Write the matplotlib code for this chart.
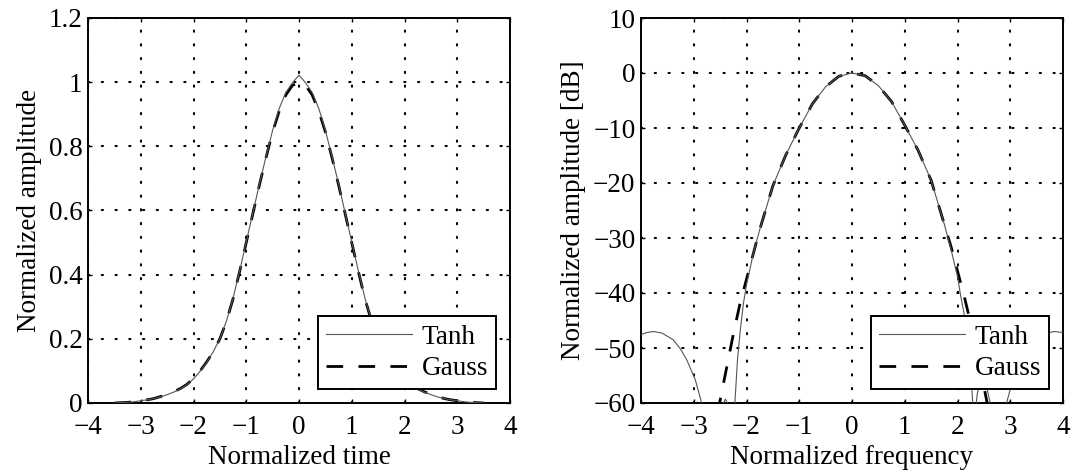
import numpy as np
import matplotlib
matplotlib.use('Agg')
import matplotlib.pyplot as plt
from matplotlib.ticker import FuncFormatter

# time domain pulse
t = [-3.5, -3.375, -3.25, -3.125, -3.0, -2.875, -2.75, -2.625, -2.5, -2.375, -2.25, -2.125,
     -2.0, -1.875, -1.75, -1.625, -1.5, -1.375, -1.25, -1.125, -1.0, -0.875, -0.75, -0.625,
     -0.5, -0.375, -0.25, -0.125, 0.0, 0.125, 0.25, 0.375, 0.5, 0.625, 0.75, 0.875, 1.0,
     1.125, 1.25, 1.375, 1.5, 1.625, 1.75, 1.875, 2.0, 2.125, 2.25, 2.375, 2.5, 2.625, 2.75,
     2.875, 3.0, 3.125, 3.25, 3.375, 3.5]
gauss_t = [0.000, 0.001, 0.002, 0.004, 0.007, 0.010, 0.014, 0.020, 0.027, 0.035, 0.045, 0.058,
           0.076, 0.100, 0.128, 0.160, 0.200, 0.255, 0.325, 0.410, 0.500, 0.590, 0.680, 0.765,
           0.845, 0.910, 0.960, 0.990, 1.000, 0.990, 0.960, 0.910, 0.845, 0.765, 0.680, 0.590,
           0.500, 0.410, 0.325, 0.255, 0.200, 0.160, 0.128, 0.100, 0.076, 0.058, 0.045, 0.035,
           0.027, 0.020, 0.014, 0.010, 0.007, 0.004, 0.002, 0.001, 0.000]
tanh_t = [0.000, 0.001, 0.002, 0.004, 0.007, 0.010, 0.014, 0.019, 0.026, 0.034, 0.044, 0.057,
          0.075, 0.099, 0.127, 0.160, 0.200, 0.256, 0.327, 0.412, 0.502, 0.592, 0.683, 0.768,
          0.850, 0.918, 0.968, 0.998, 1.022, 0.998, 0.968, 0.918, 0.850, 0.768, 0.683, 0.592,
          0.502, 0.412, 0.327, 0.256, 0.200, 0.160, 0.127, 0.099, 0.075, 0.057, 0.044, 0.034,
          0.026, 0.019, 0.014, 0.010, 0.007, 0.004, 0.002, 0.001, 0.000]

# spectrum in dB
f_gauss = [-2.56, -2.5, -2.375, -2.25, -2.125, -2.0, -1.875, -1.75, -1.625, -1.5, -1.25, -1.0,
           -0.75, -0.5, -0.25, 0.0, 0.25, 0.5, 0.75, 1.0, 1.25, 1.5, 1.625, 1.75, 1.875, 2.0,
           2.125, 2.25, 2.375, 2.5, 2.625, 2.68]
gauss_db = [-62, -59.5, -53.5, -47.5, -42, -37.5, -33, -28.5, -24.5, -20.5, -14.8, -10,
            -5.6, -2.5, -0.6, 0, -0.5, -2.3, -5.2, -9.5, -14, -19.5, -23.5, -27.5, -31.5, -36,
            -40.5, -45.5, -51, -57, -63, -66]
f_tanh = [-4.0, -3.9, -3.76, -3.6, -3.39, -3.25, -3.13, -2.97, -2.85, -2.78, -2.72,
          -2.5, -2.45, -2.4, -2.35, -2.3, -2.28,
          -2.26, -2.22, -2.17, -2.12, -2.06, -2.0, -1.875, -1.75, -1.625, -1.5, -1.25, -1.0,
          -0.75, -0.5, -0.25, 0.0, 0.25, 0.5, 0.75, 1.0, 1.25, 1.5, 1.625, 1.75, 1.875, 2.0,
          2.06, 2.12, 2.18, 2.24, 2.29, 2.31,
          2.33, 2.38, 2.46, 2.55, 2.62, 2.66,
          2.8, 2.88, 2.93, 3.05, 3.21, 3.33, 3.47, 3.68, 3.84, 4.0]
tanh_db = [-47.6, -47.2, -47.0, -47.3, -48.5, -50.2, -52.2, -55.8, -60, -66, -80,
           -64, -60.2, -59.3, -60.2, -64, -80,
           -66, -60, -52, -47, -42, -38.5, -33, -28.5, -24.5, -20.5, -14.8, -10,
           -5.6, -2.5, -0.6, 0, -0.5, -2.3, -5.2, -9.5, -14, -19.5, -23.5, -27.5, -32, -37,
           -40.5, -43.5, -48, -53, -60, -64,
           -62, -58, -56, -57, -60, -66,
           -80, -66, -60, -55.8, -52.2, -50.2, -48.5, -47.3, -47.0, -47.2]

plt.rcParams['font.family'] = 'Liberation Serif'
plt.rcParams['font.size'] = 19.5


def fmt(v, pos):
    return f'{v:g}'.replace('-', '\u2212')


def style(ax, xlim, ylim, yticks):
    ax.set_xlim(xlim)
    ax.set_ylim(ylim)
    ax.set_xticks(np.arange(-4, 5, 1))
    ax.set_yticks(yticks)
    ax.xaxis.set_major_formatter(FuncFormatter(fmt))
    ax.yaxis.set_major_formatter(FuncFormatter(fmt))
    ax.tick_params(direction='in', length=3, width=1, top=True, right=True)
    ax.tick_params(axis='x', pad=9)
    ax.tick_params(axis='y', pad=4)
    ax.grid(True, color='k', linestyle=(0, (0.6, 6.0)), linewidth=1.5, dash_capstyle='round')
    for sp in ax.spines.values():
        sp.set_linewidth(1.4)
    leg = ax.legend(loc='lower right', borderaxespad=0.5, fancybox=False, framealpha=1,
                    edgecolor='k', handlelength=3.2, handletextpad=0.35, borderpad=0.3,
                    labelspacing=0.25)
    leg.get_frame().set_linewidth(1.4)


fig = plt.figure(figsize=(10.73, 4.76), dpi=100)
ax1 = fig.add_axes([88 / 1073, 73 / 476, 422 / 1073, 385 / 476])
ax2 = fig.add_axes([641 / 1073, 73 / 476, 422 / 1073, 385 / 476])

ax1.plot(t, tanh_t, color='#555555', lw=0.8, label='Tanh', zorder=3)
ax1.plot(t, gauss_t, color='k', lw=2.0, dashes=(6, 5.5), label='Gauss', zorder=2)
style(ax1, (-4, 4), (0, 1.2), [0, 0.2, 0.4, 0.6, 0.8, 1.0, 1.2])
ax1.set_xlabel('Normalized time', labelpad=3)
ax1.set_ylabel('Normalized amplitude', labelpad=5)

ax2.plot(f_tanh, tanh_db, color='#555555', lw=0.8, label='Tanh', zorder=3)
ax2.plot(f_gauss, gauss_db, color='k', lw=2.0, dashes=(6, 5.5), label='Gauss', zorder=2)
style(ax2, (-4, 4), (-60, 10), np.arange(-60, 11, 10))
ax2.set_xlabel('Normalized frequency', labelpad=3)
ax2.set_ylabel('Normalized amplitude [dB]', labelpad=5)

fig.savefig('out.png', dpi=100, facecolor='w')
